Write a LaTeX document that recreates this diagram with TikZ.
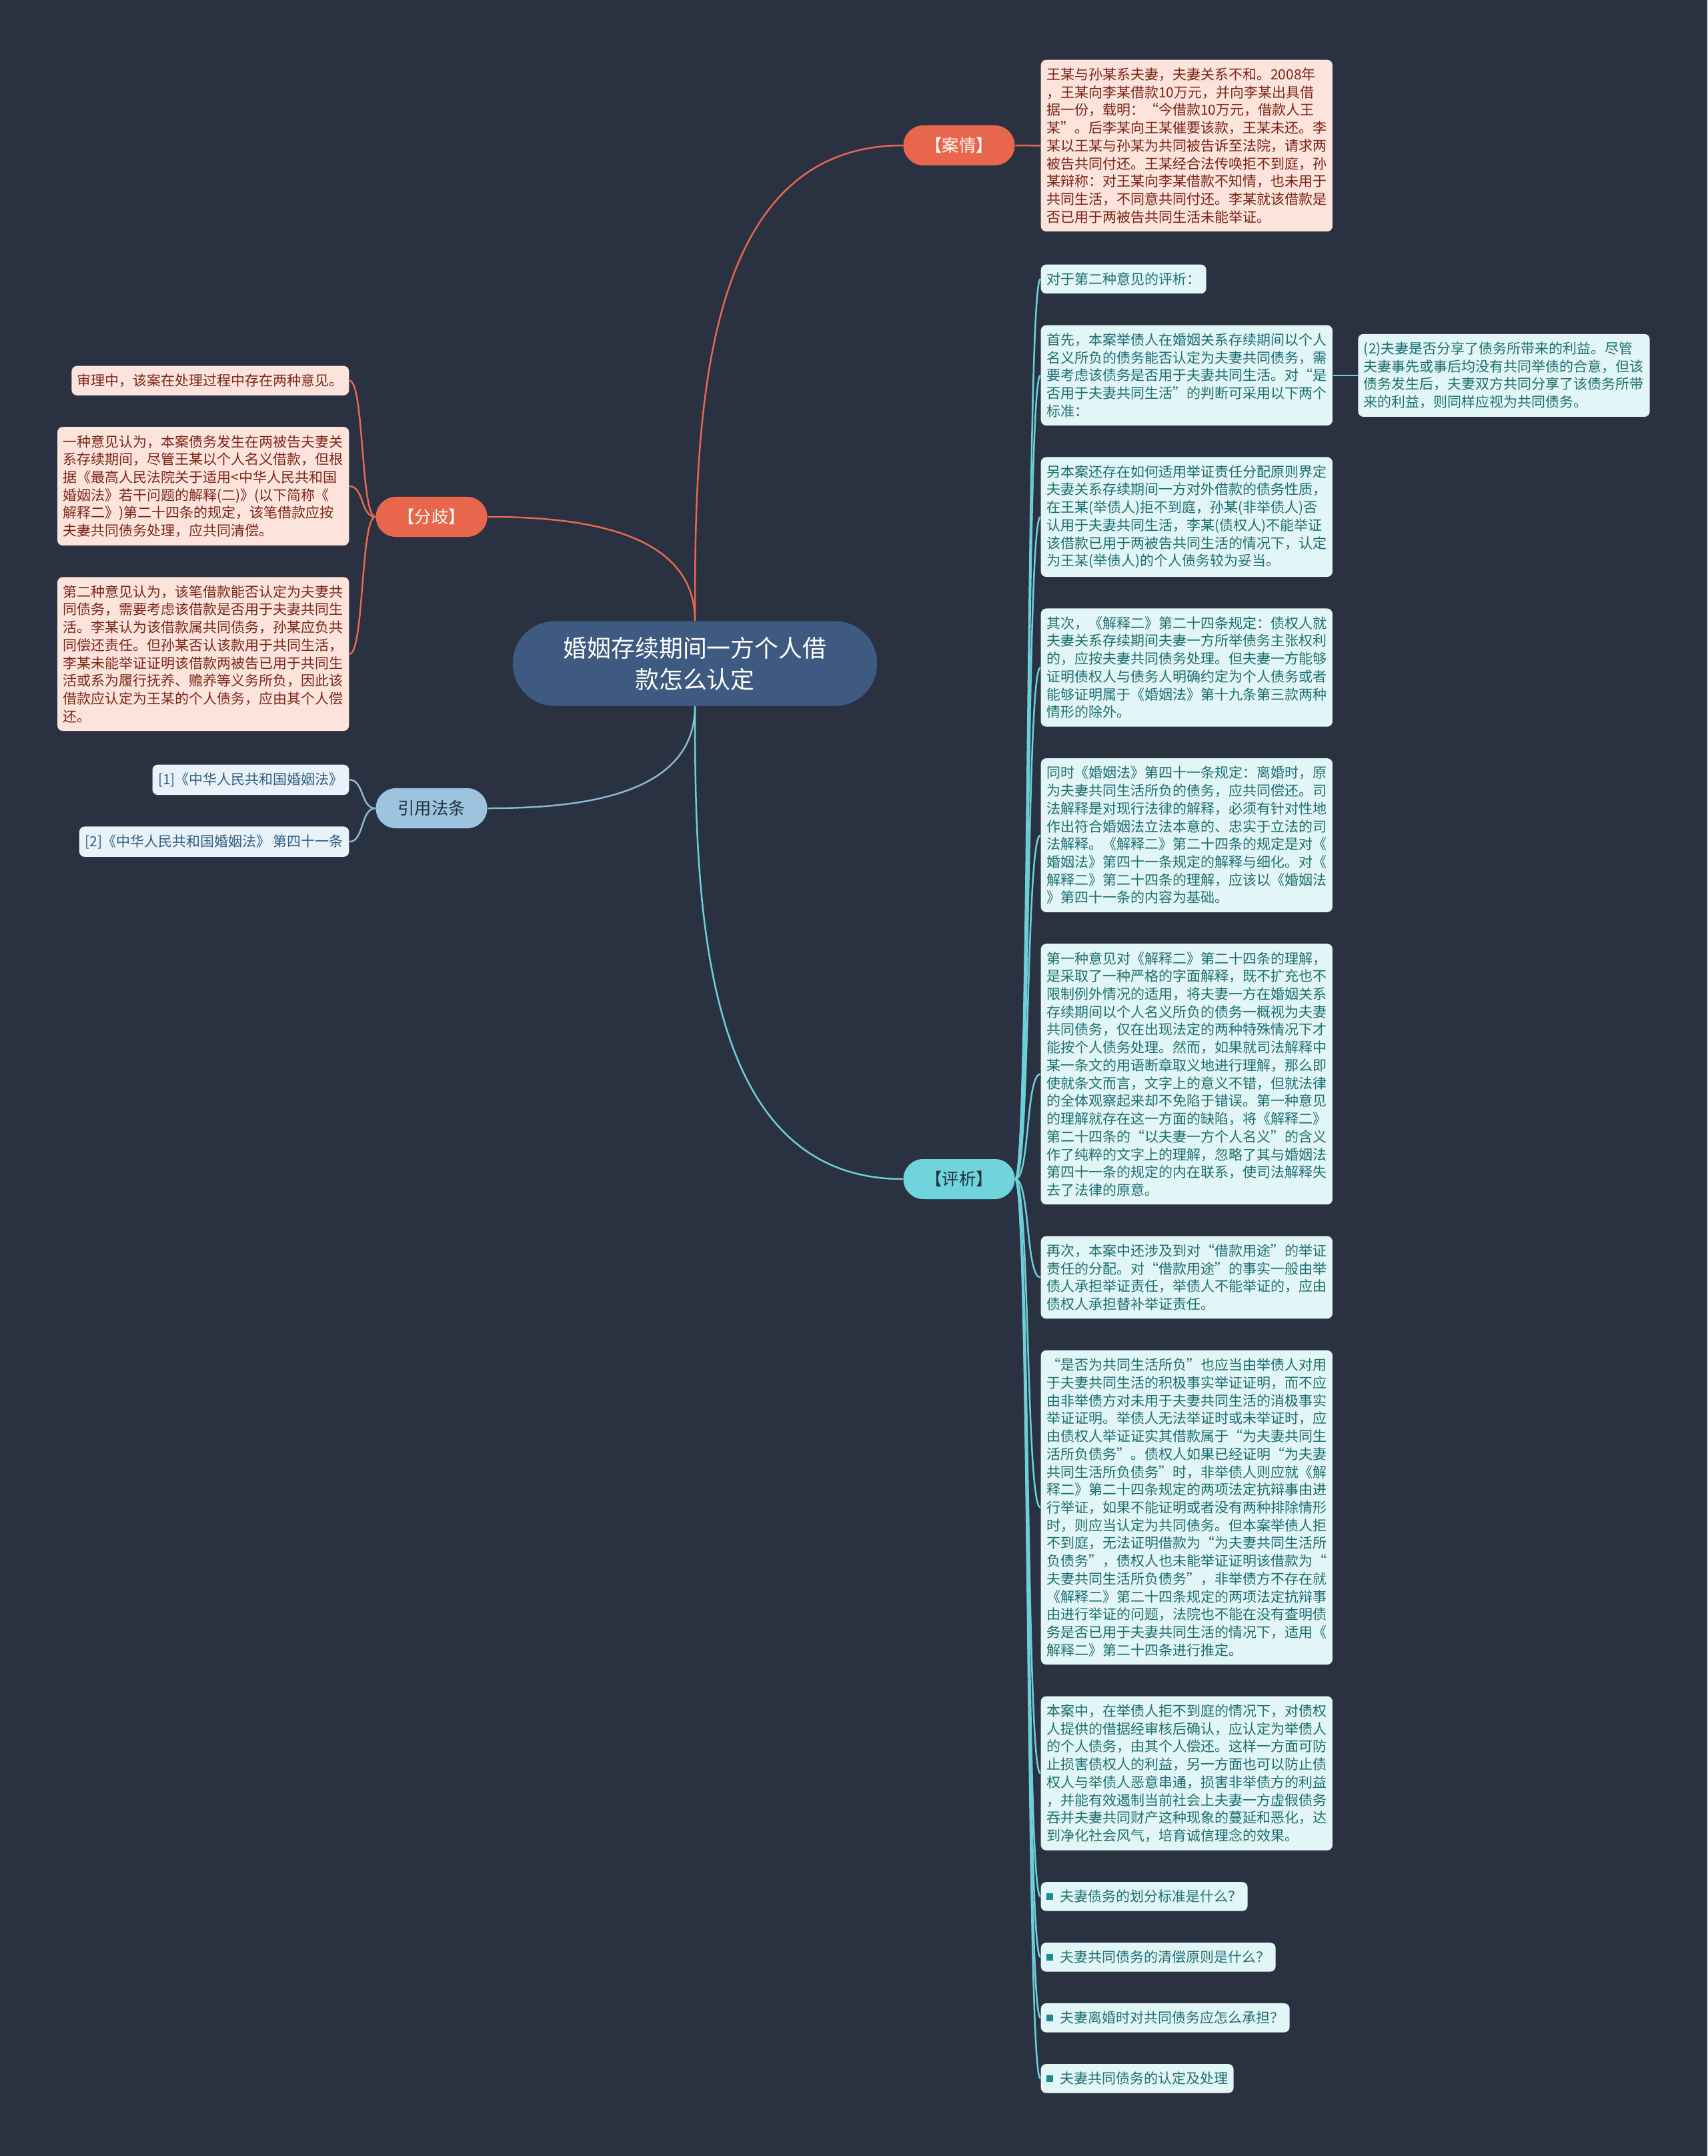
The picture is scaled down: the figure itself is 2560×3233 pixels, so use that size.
\documentclass[tikz,border=0pt]{standalone}
\usepackage{fontspec}
\setmainfont{Noto Sans CJK SC}
\usepackage{xcolor}
\usepackage{tikz}
\usetikzlibrary{positioning}

\definecolor{bgnavy}{HTML}{2A3141}
\definecolor{rootblue}{HTML}{3E5A80}
\definecolor{orgline}{HTML}{E4694F}
\definecolor{orgfill}{HTML}{E8674C}
\definecolor{pinkfill}{HTML}{FCE3DC}
\definecolor{pinktext}{HTML}{7A2716}
\definecolor{cyanfill}{HTML}{6FD4DC}
\definecolor{cyanline}{HTML}{6DD0D9}
\definecolor{icefill}{HTML}{E2F6F7}
\definecolor{tealtext}{HTML}{1F6F73}
\definecolor{qteal}{HTML}{1E8A8F}
\definecolor{skyfill}{HTML}{9CC4DE}
\definecolor{skyline}{HTML}{8DB7D3}
\definecolor{palefill}{HTML}{E9F2F8}
\definecolor{navytext}{HTML}{2F5C7E}
\definecolor{darktext}{HTML}{243040}

\newcommand{\leaffont}{\fontsize{5.97pt}{7.6pt}\selectfont}
\newcommand{\qbullet}{\textcolor{qteal}{\raisebox{0.03cm}{\rule{0.1cm}{0.1cm}}}\hspace{0.1cm}}

\begin{document}
\begin{tikzpicture}[
    x=0.01cm, y=-0.01cm,
    node distance=0.46cm,
    % styles
    root/.style={rectangle, rounded corners=0.63cm, fill=rootblue, text=white, minimum width=5.46cm, minimum height=1.27cm, align=center, font=\fontsize{10.2pt}{13.4pt}\selectfont},
    topic/.style={rectangle, rounded corners=0.3cm, minimum width=1.67cm, minimum height=0.6cm, inner sep=0pt, font=\fontsize{7.2pt}{8pt}\selectfont},
    leaf/.style={rectangle, rounded corners=0.08cm, inner xsep=0.085cm, inner ysep=0.12cm, align=left, font=\leaffont},
    wide/.style={leaf, text width=4.2cm},
    pinkleaf/.style={fill=pinkfill, text=pinktext},
    iceleaf/.style={fill=icefill, text=tealtext},
    paleleaf/.style={fill=palefill, text=navytext},
    orgwire/.style={draw=orgline, line width=0.025cm},
    cyanwire/.style={draw=cyanline, line width=0.025cm},
    skywire/.style={draw=skyline, line width=0.025cm}
]

    \fill[bgnavy] (0,0) rectangle (2560,3233);
    \useasboundingbox (0,0) rectangle (2560,3233);

    % --- 1. ROOT AND TOPICS ---
    \node[root] (root) at (1042,995) {婚姻存续期间一方个人借\\款怎么认定};

    \node[topic, fill=orgfill, text=white] (anqing) at (1438,218) {【案情】};
    \node[topic, fill=orgfill, text=white] (fenqi) at (647,775) {【分歧】};
    \node[topic, fill=skyfill, text=darktext] (yinyong) at (647,1212) {引用法条};
    \node[topic, fill=cyanfill, text=darktext] (pingxi) at (1438,1768) {【评析】};

    % --- 2. 案情 ---
    \node[wide, pinkleaf, anchor=north west] (case) at (1560,89) {
        王某与孙某系夫妻，夫妻关系不和。2008年\\
        ，王某向李某借款10万元，并向李某出具借\\
        据一份，载明：“今借款10万元，借款人王\\
        某”。后李某向王某催要该款，王某未还。李\\
        某以王某与孙某为共同被告诉至法院，请求两\\
        被告共同付还。王某经合法传唤拒不到庭，孙\\
        某辩称：对王某向李某借款不知情，也未用于\\
        共同生活，不同意共同付还。李某就该借款是\\
        否已用于两被告共同生活未能举证。};

    % --- 3. 分歧 ---
    \node[leaf, pinkleaf, anchor=north east] (fq1) at (524,548) {审理中，该案在处理过程中存在两种意见。};

    \node[wide, pinkleaf, below=of fq1.south east, anchor=north east] (fq2) {
        一种意见认为，本案债务发生在两被告夫妻关\\
        系存续期间，尽管王某以个人名义借款，但根\\
        据《最高人民法院关于适用<中华人民共和国\\
        婚姻法》若干问题的解释(二)》(以下简称《\\
        解释二》)第二十四条的规定，该笔借款应按\\
        夫妻共同债务处理，应共同清偿。};

    \node[wide, pinkleaf, below=of fq2.south east, anchor=north east] (fq3) {
        第二种意见认为，该笔借款能否认定为夫妻共\\
        同债务，需要考虑该借款是否用于夫妻共同生\\
        活。李某认为该借款属共同债务，孙某应负共\\
        同偿还责任。但孙某否认该款用于共同生活，\\
        李某未能举证证明该借款两被告已用于共同生\\
        活或系为履行抚养、赡养等义务所负，因此该\\
        借款应认定为王某的个人债务，应由其个人偿\\
        还。};

    % --- 4. 引用法条 ---
    \node[leaf, paleleaf, anchor=north east] (ref1) at (524,1146) {[1]《中华人民共和国婚姻法》};
    \node[leaf, paleleaf, below=of ref1.south east, anchor=north east] (ref2) {[2]《中华人民共和国婚姻法》 第四十一条};

    % --- 5. 评析 ---
    \node[leaf, iceleaf, anchor=north west] (px1) at (1560,396) {对于第二种意见的评析：};

    \node[wide, iceleaf, below=of px1.south west, anchor=north west] (px2) {
        首先，本案举债人在婚姻关系存续期间以个人\\
        名义所负的债务能否认定为夫妻共同债务，需\\
        要考虑该债务是否用于夫妻共同生活。对“是\\
        否用于夫妻共同生活”的判断可采用以下两个\\
        标准：};

    \node[wide, iceleaf, right=0.37cm of px2] (px2a) {
        (2)夫妻是否分享了债务所带来的利益。尽管\\
        夫妻事先或事后均没有共同举债的合意，但该\\
        债务发生后，夫妻双方共同分享了该债务所带\\
        来的利益，则同样应视为共同债务。};

    \node[wide, iceleaf, below=of px2.south west, anchor=north west] (px3) {
        另本案还存在如何适用举证责任分配原则界定\\
        夫妻关系存续期间一方对外借款的债务性质，\\
        在王某(举债人)拒不到庭，孙某(非举债人)否\\
        认用于夫妻共同生活，李某(债权人)不能举证\\
        该借款已用于两被告共同生活的情况下，认定\\
        为王某(举债人)的个人债务较为妥当。};

    \node[wide, iceleaf, below=of px3.south west, anchor=north west] (px4) {
        其次，《解释二》第二十四条规定：债权人就\\
        夫妻关系存续期间夫妻一方所举债务主张权利\\
        的，应按夫妻共同债务处理。但夫妻一方能够\\
        证明债权人与债务人明确约定为个人债务或者\\
        能够证明属于《婚姻法》第十九条第三款两种\\
        情形的除外。};

    \node[wide, iceleaf, below=of px4.south west, anchor=north west] (px5) {
        同时《婚姻法》第四十一条规定：离婚时，原\\
        为夫妻共同生活所负的债务，应共同偿还。司\\
        法解释是对现行法律的解释，必须有针对性地\\
        作出符合婚姻法立法本意的、忠实于立法的司\\
        法解释。《解释二》第二十四条的规定是对《\\
        婚姻法》第四十一条规定的解释与细化。对《\\
        解释二》第二十四条的理解，应该以《婚姻法\\
        》第四十一条的内容为基础。};

    \node[wide, iceleaf, below=of px5.south west, anchor=north west] (px6) {
        第一种意见对《解释二》第二十四条的理解，\\
        是采取了一种严格的字面解释，既不扩充也不\\
        限制例外情况的适用，将夫妻一方在婚姻关系\\
        存续期间以个人名义所负的债务一概视为夫妻\\
        共同债务，仅在出现法定的两种特殊情况下才\\
        能按个人债务处理。然而，如果就司法解释中\\
        某一条文的用语断章取义地进行理解，那么即\\
        使就条文而言，文字上的意义不错，但就法律\\
        的全体观察起来却不免陷于错误。第一种意见\\
        的理解就存在这一方面的缺陷，将《解释二》\\
        第二十四条的“以夫妻一方个人名义”的含义\\
        作了纯粹的文字上的理解，忽略了其与婚姻法\\
        第四十一条的规定的内在联系，使司法解释失\\
        去了法律的原意。};

    \node[wide, iceleaf, below=of px6.south west, anchor=north west] (px7) {
        再次，本案中还涉及到对“借款用途”的举证\\
        责任的分配。对“借款用途”的事实一般由举\\
        债人承担举证责任，举债人不能举证的，应由\\
        债权人承担替补举证责任。};

    \node[wide, iceleaf, below=of px7.south west, anchor=north west] (px8) {
        “是否为共同生活所负”也应当由举债人对用\\
        于夫妻共同生活的积极事实举证证明，而不应\\
        由非举债方对未用于夫妻共同生活的消极事实\\
        举证证明。举债人无法举证时或未举证时，应\\
        由债权人举证证实其借款属于“为夫妻共同生\\
        活所负债务”。债权人如果已经证明“为夫妻\\
        共同生活所负债务”时，非举债人则应就《解\\
        释二》第二十四条规定的两项法定抗辩事由进\\
        行举证，如果不能证明或者没有两种排除情形\\
        时，则应当认定为共同债务。但本案举债人拒\\
        不到庭，无法证明借款为“为夫妻共同生活所\\
        负债务”，债权人也未能举证证明该借款为“\\
        夫妻共同生活所负债务”，非举债方不存在就\\
        《解释二》第二十四条规定的两项法定抗辩事\\
        由进行举证的问题，法院也不能在没有查明债\\
        务是否已用于夫妻共同生活的情况下，适用《\\
        解释二》第二十四条进行推定。};

    \node[wide, iceleaf, below=of px8.south west, anchor=north west] (px9) {
        本案中，在举债人拒不到庭的情况下，对债权\\
        人提供的借据经审核后确认，应认定为举债人\\
        的个人债务，由其个人偿还。这样一方面可防\\
        止损害债权人的利益，另一方面也可以防止债\\
        权人与举债人恶意串通，损害非举债方的利益\\
        ，并能有效遏制当前社会上夫妻一方虚假债务\\
        吞并夫妻共同财产这种现象的蔓延和恶化，达\\
        到净化社会风气，培育诚信理念的效果。};

    % related questions
    \node[leaf, iceleaf, below=of px9.south west, anchor=north west] (qa1) {\qbullet 夫妻债务的划分标准是什么？};
    \node[leaf, iceleaf, below=of qa1.south west, anchor=north west] (qa2) {\qbullet 夫妻共同债务的清偿原则是什么？};
    \node[leaf, iceleaf, below=of qa2.south west, anchor=north west] (qa3) {\qbullet 夫妻离婚时对共同债务应怎么承担？};
    \node[leaf, iceleaf, below=of qa3.south west, anchor=north west] (qa4) {\qbullet 夫妻共同债务的认定及处理};

    % --- 6. CONNECTORS ---
    \draw[orgwire] (root.north) to[out=90, in=180] (anqing.west);
    \draw[orgwire] (root.north) to[out=90, in=0] (fenqi.east);
    \draw[skywire] (root.south) to[out=-90, in=0] (yinyong.east);
    \draw[cyanwire] (root.south) to[out=-90, in=180] (pingxi.west);

    \draw[orgwire] (anqing.east) -- (case.west);

    \foreach \leafname in {fq1, fq2, fq3}
        \draw[orgwire] (fenqi.west) .. controls +(-22,0) and +(22,0) .. (\leafname.east);

    \foreach \leafname in {ref1, ref2}
        \draw[skywire] (yinyong.west) .. controls +(-22,0) and +(22,0) .. (\leafname.east);

    \foreach \leafname in {px1, px2, px3, px4, px5, px6, px7, px8, px9, qa1, qa2, qa3, qa4}
        \draw[cyanwire] (pingxi.east) .. controls +(22,0) and +(-22,0) .. (\leafname.west);

    \draw[cyanwire] (px2.east) -- (px2a.west);

\end{tikzpicture}
\end{document}
